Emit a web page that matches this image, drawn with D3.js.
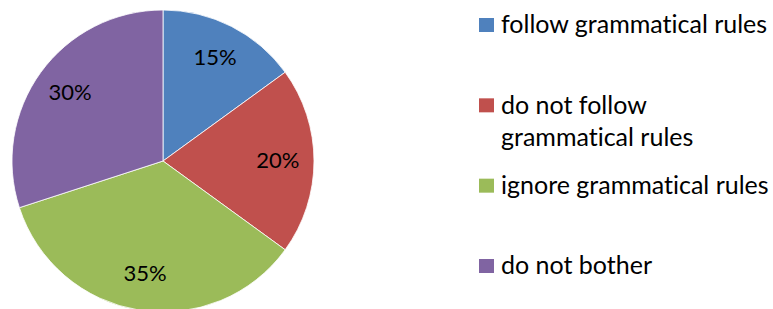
<!DOCTYPE html>
<html>
<head>
<meta charset="utf-8" />
<title>Grammatical rules pie</title>
<script src="https://d3js.org/d3.v7.min.js"></script>
<style>
html, body { margin: 0; padding: 0; background: #fff; }
svg { display: block; }
text { font-family: Lato, "Open Sans", sans-serif; fill: #000; font-variant-ligatures: none; }
</style>
</head>
<body>
<script>
let categories = ['follow grammatical rules', 'do not follow grammatical rules', 'ignore grammatical rules', 'do not bother'];
let legendLines = [['follow grammatical rules'], ['do not follow', 'grammatical rules'], ['ignore grammatical rules'], ['do not bother']];
let shares = [15, 20, 35, 30];
let colors = ['#4F81BD', '#C0504D', '#9BBB59', '#8064A2'];

let width = 773, height = 309;
let cx = 163, cy = 161, radius = 151;

let svg = d3.select('body').append('svg').attr('width', width).attr('height', height);

let pie = d3.pie().sort(null).value((d) => d.value);
let arcs = pie(categories.map((c, i) => ({ name: c, value: shares[i] })));
let arc = d3.arc().innerRadius(0).outerRadius(radius);
let labelArc = d3.arc().innerRadius(radius * 0.76).outerRadius(radius * 0.76);

let g = svg.append('g').attr('transform', 'translate(' + cx + ',' + cy + ')');

g.selectAll('path').data(arcs).enter().append('path')
    .attr('d', arc)
    .attr('fill', (d, i) => colors[i])
    .attr('stroke', '#ffffff')
    .attr('stroke-width', 0.8);

g.selectAll('text').data(arcs).enter().append('text')
    .attr('transform', (d) => 'translate(' + labelArc.centroid(d) + ')')
    .attr('text-anchor', 'middle')
    .attr('dy', '0.3em')
    .style('font-size', '22px')
    .text((d) => d.data.value + '%');

// legend
let legendY = d3.scalePoint().domain(categories).range([25, 266]);

let legend = svg.append('g').attr('id', 'legend');
let item = legend.selectAll('g').data(categories).enter().append('g')
    .attr('transform', (d) => 'translate(479,' + legendY(d) + ')');

item.append('rect')
    .attr('x', 0).attr('y', -7).attr('width', 15).attr('height', 14)
    .attr('fill', (d, i) => colors[i]);

item.append('text')
    .style('font-size', '25px')
    .selectAll('tspan').data((d, i) => legendLines[i]).enter().append('tspan')
    .attr('x', 22)
    .attr('dy', (d, j) => j === 0 ? '0.33em' : '32px')
    .text((d) => d);
</script>
</body>
</html>
